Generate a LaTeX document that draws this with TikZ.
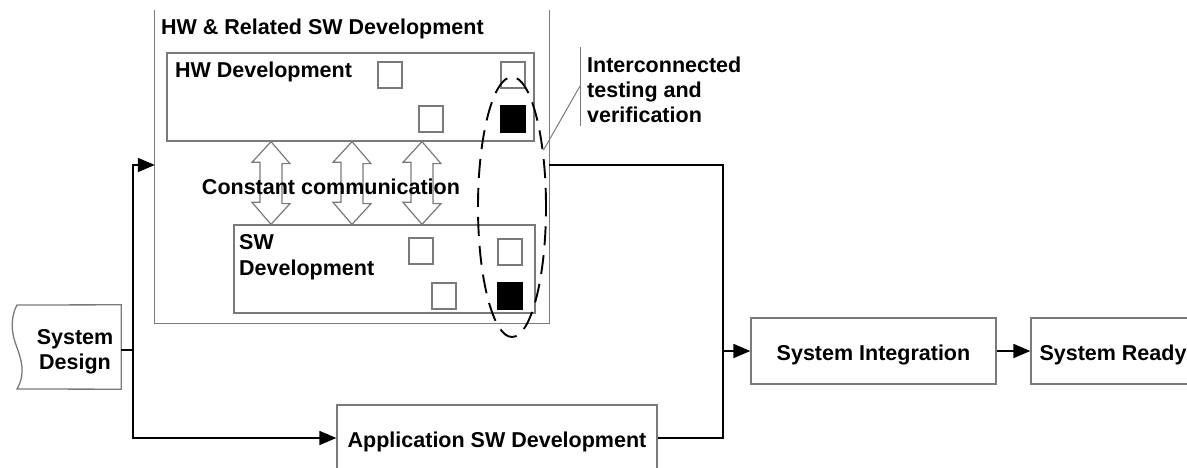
\documentclass[tikz,border=0pt]{standalone}
\usepackage{fontspec}
\setmainfont{Liberation Sans}
\usetikzlibrary{arrows.meta,shapes.geometric}
\definecolor{frame}{HTML}{7A7A7A}
\begin{document}
\begin{tikzpicture}[x=1pt,y=-1pt,
  lbl/.style={font=\fontsize{21.5}{25}\selectfont\bfseries, inner sep=0pt},
  boxlbl/.style={lbl, text height=19pt, text depth=0pt},
  box/.style={draw=frame, line width=1.3pt, fill=white},
  conn/.style={line width=1.8pt, draw=black},
  tip/.style={-{Triangle[length=17pt,width=14pt]}},
  sq/.style={draw=frame, line width=1.2pt, fill=white, minimum width=24pt, minimum height=26pt, inner sep=0pt},
  sqdone/.style={sq, fill=black, draw=black},
  twoway/.style={draw=frame, line width=1.2pt, fill=white},
  callout/.style={draw=frame, line width=1pt}
]
\useasboundingbox (0,0) rectangle (1187,468);
\clip (0,0) rectangle (1187,468);

% system design (torn left edge)
\node (sd) [minimum width=108pt, minimum height=84pt, inner sep=0pt] at (67,347) {};
\draw[box] (sd.north east) -- (17,305)
  .. controls (11,316) and (11,330) .. (15,342)
  .. controls (20,356) and (27,372) .. (17,389)
  -- (sd.south east) -- cycle;
\node[lbl, align=center, anchor=north] (sdt) at (75,329.6) {System\\Design};

% HW & related SW development frame (open at the top)
\node (hwr) [minimum width=394pt, minimum height=313pt, inner sep=0pt] at (352,166.5) {};
\draw[draw=frame, line width=1.3pt] (hwr.north west) -- (hwr.south west) -- (hwr.south east) -- (hwr.north east);
\node[lbl, anchor=base west] (hwrt) at (161,35) {HW \& Related SW Development};

% HW development
\node[box, minimum width=367pt, minimum height=88pt] (hw) at (350.5,97) {};
\node[lbl, anchor=base west] (hwt) at (175,78) {HW Development};
\node[sq] (h1) at (390,75) {};
\node[sq] (h2) at (513,75) {};
\node[sq] (h3) at (431,119) {};
\node[sqdone] (h4) at (513,119) {};

% SW development
\node[box, minimum width=301pt, minimum height=88pt] (sw) at (384.5,269) {};
\node[lbl, font=\fontsize{21.5}{26}\selectfont\bfseries, align=left, anchor=north west] (swt) at (239,234.6) {SW\\Development};
\node[sq] (s1) at (421,251) {};
\node[sq] (s2) at (444,296) {};
\node[sq] (s3) at (510,252) {};
\node[sqdone] (s4) at (510,296) {};

% two-way arrows between HW and SW
\foreach \cx in {271,352,422} {
  \draw[twoway] (\cx,0 |- hw.south) -- ++(19,22) -- ++(-8,0) -- ++(0,40) -- ++(8,0)
    -- (\cx,0 |- sw.north) -- ++(-19,-22) -- ++(8,0) -- ++(0,-40) -- ++(-8,0) -- cycle;
}
\node[lbl, anchor=base] (cc) at (331,195) {Constant communication};

% interconnected testing and verification
\node[draw, ellipse, line width=1.9pt, dash pattern=on 19pt off 10pt,
      minimum width=68pt, minimum height=260pt, inner sep=0pt] (tv) at (512,207) {};
\coordinate (cbar) at (580,86);
\coordinate (cbartop) at (580,47);
\coordinate (cbarbot) at (580,126);
\draw[callout] (tv.61) -- (cbar);
\draw[callout] (cbartop) -- (cbarbot);
\node[lbl, align=left, anchor=north west] (tvt) at (587,56.5) {Interconnected\\testing and\\verification};

% downstream blocks
\node[box, boxlbl, minimum width=320pt, minimum height=66pt] (app) at (497,438) {Application SW Development};
\node[box, boxlbl, minimum width=245pt, minimum height=66pt] (si) at (873.5,351) {System Integration};
\node[box, boxlbl, minimum width=164pt, minimum height=66pt] (sr) at (1113,351) {System Ready};

% connectors
\coordinate (sdo) at (121,350);
\coordinate (split) at (133,350);
\coordinate (hwin) at (hwr.west |- 0,165);
\coordinate (hwout) at (hwr.east |- 0,165);
\coordinate (bend) at (723,165);
\draw[conn] (sdo) -- (split);
\draw[conn, tip] (split) |- (hwin);
\draw[conn, tip] (split) |- (app.west);
\draw[conn] (hwout) -- (bend) |- (app.east);
\draw[conn, tip] (bend |- si.west) -- (si.west);
\draw[conn, tip] (si.east) -- (sr.west);
\end{tikzpicture}
\end{document}
